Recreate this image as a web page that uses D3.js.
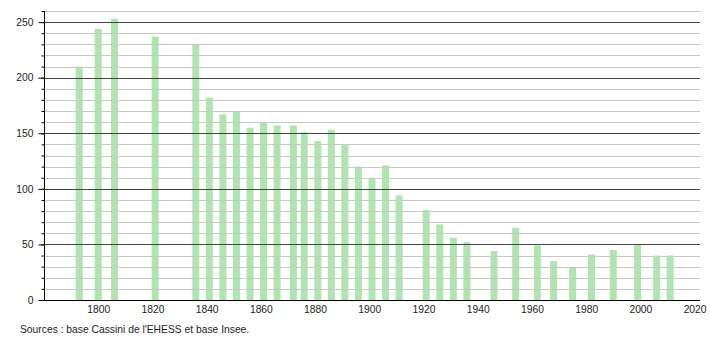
<!DOCTYPE html>
<html>

<head>
  <meta charset="utf-8">
  <title>Population</title>
  <style>
    body {
      margin: 0;
      background-color: #fff;
      font-family: 'Liberation Sans', Arial, sans-serif;
    }

    .tick text {
      font-size: 10.3px;
      fill: #222;
    }

    .source {
      font-size: 10.3px;
      fill: #222;
    }
  </style>
</head>

<body>
  <div id="chart"></div>
  <script src="https://d3js.org/d3.v7.min.js"></script>
  <script>
    // census years and population counts
    var years = [1793, 1800, 1806, 1821, 1836, 1841, 1846, 1851, 1856, 1861, 1866, 1872,
      1876, 1881, 1886, 1891, 1896, 1901, 1906, 1911, 1921, 1926, 1931, 1936, 1946,
      1954, 1962, 1968, 1975, 1982, 1990, 1999, 2006, 2011];
    var population = [210, 244, 253, 237, 230, 182, 167, 170, 155, 160, 157, 157,
      151, 143, 153, 140, 120, 110, 121, 94, 81, 68, 56, 52, 44,
      65, 49, 35, 29, 41, 45, 50, 40, 40];
    var xTicks = [1800, 1820, 1840, 1860, 1880, 1900, 1920, 1940, 1960, 1980, 2000, 2020];
    var yTicks = [0, 50, 100, 150, 200, 250];
    var sourceText = "Sources : base Cassini de l'EHESS et base Insee.";

    var width = 710,
      height = 340;
    var margin = {
      top: 11,
      right: 10,
      bottom: 40,
      left: 44
    };

    var svg = d3.select("#chart").append("svg")
      .attr("width", width)
      .attr("height", height);

    var x = d3.scaleLinear()
      .domain([1780, 2022])
      .range([margin.left, width - margin.right]);

    var y = d3.scaleLinear()
      .domain([0, 260])
      .range([height - margin.bottom, margin.top]);

    var barW = 7;

    // bars
    svg.append("g")
      .selectAll("rect")
      .data(years)
      .enter().append("rect")
      .attr("x", function(d) { return x(d) - barW / 2; })
      .attr("y", function(d, i) { return y(population[i]); })
      .attr("width", barW)
      .attr("height", function(d, i) { return y(0) - y(population[i]); })
      .style("fill", "#b0e4b0");

    // minor grid every 10
    var minor = d3.range(10, 261, 10).filter(function(v) { return v % 50 != 0; });
    svg.append("g")
      .selectAll("line")
      .data(minor)
      .enter().append("line")
      .attr("x1", margin.left)
      .attr("x2", width - margin.right)
      .attr("y1", function(d) { return Math.round(y(d)) + 0.5; })
      .attr("y2", function(d) { return Math.round(y(d)) + 0.5; })
      .style("stroke", "#c8c8c8")
      .style("stroke-width", 1);

    // major grid
    svg.append("g")
      .selectAll("line")
      .data(yTicks.slice(1))
      .enter().append("line")
      .attr("x1", margin.left)
      .attr("x2", width - margin.right)
      .attr("y1", function(d) { return Math.round(y(d)) + 0.5; })
      .attr("y2", function(d) { return Math.round(y(d)) + 0.5; })
      .style("stroke", "#444")
      .style("stroke-width", 1);

    // y axis: minor ticks then major ticks with labels
    var yMinor = svg.append("g")
      .attr("transform", "translate(" + (margin.left + 0.5) + ",0)")
      .call(d3.axisLeft(y).tickValues(d3.range(0, 261, 10)).tickSize(3).tickFormat(""));
    yMinor.select(".domain").remove();

    var yAxis = svg.append("g")
      .attr("transform", "translate(" + (margin.left + 0.5) + ",0)")
      .call(d3.axisLeft(y).tickValues(yTicks).tickSize(6).tickPadding(5).tickFormat(d3.format("d")));
    yAxis.select(".domain")
      .attr("d", "M0," + y(0) + "V" + margin.top)
      .style("stroke", "#000");

    // x axis
    var xAxis = svg.append("g")
      .attr("transform", "translate(0," + (Math.round(y(0)) + 0.5) + ")")
      .call(d3.axisBottom(x).tickValues(xTicks).tickSize(0).tickPadding(5).tickFormat(d3.format("d")));
    xAxis.select(".domain")
      .attr("d", "M" + (margin.left - 4) + ",0H" + (width - margin.right))
      .style("stroke", "#000");

    svg.selectAll(".tick text").style("font-family", "'Liberation Sans', Arial, sans-serif");

    svg.append("text")
      .attr("class", "source")
      .attr("x", 20)
      .attr("y", 333)
      .text(sourceText);
  </script>
</body>

</html>
